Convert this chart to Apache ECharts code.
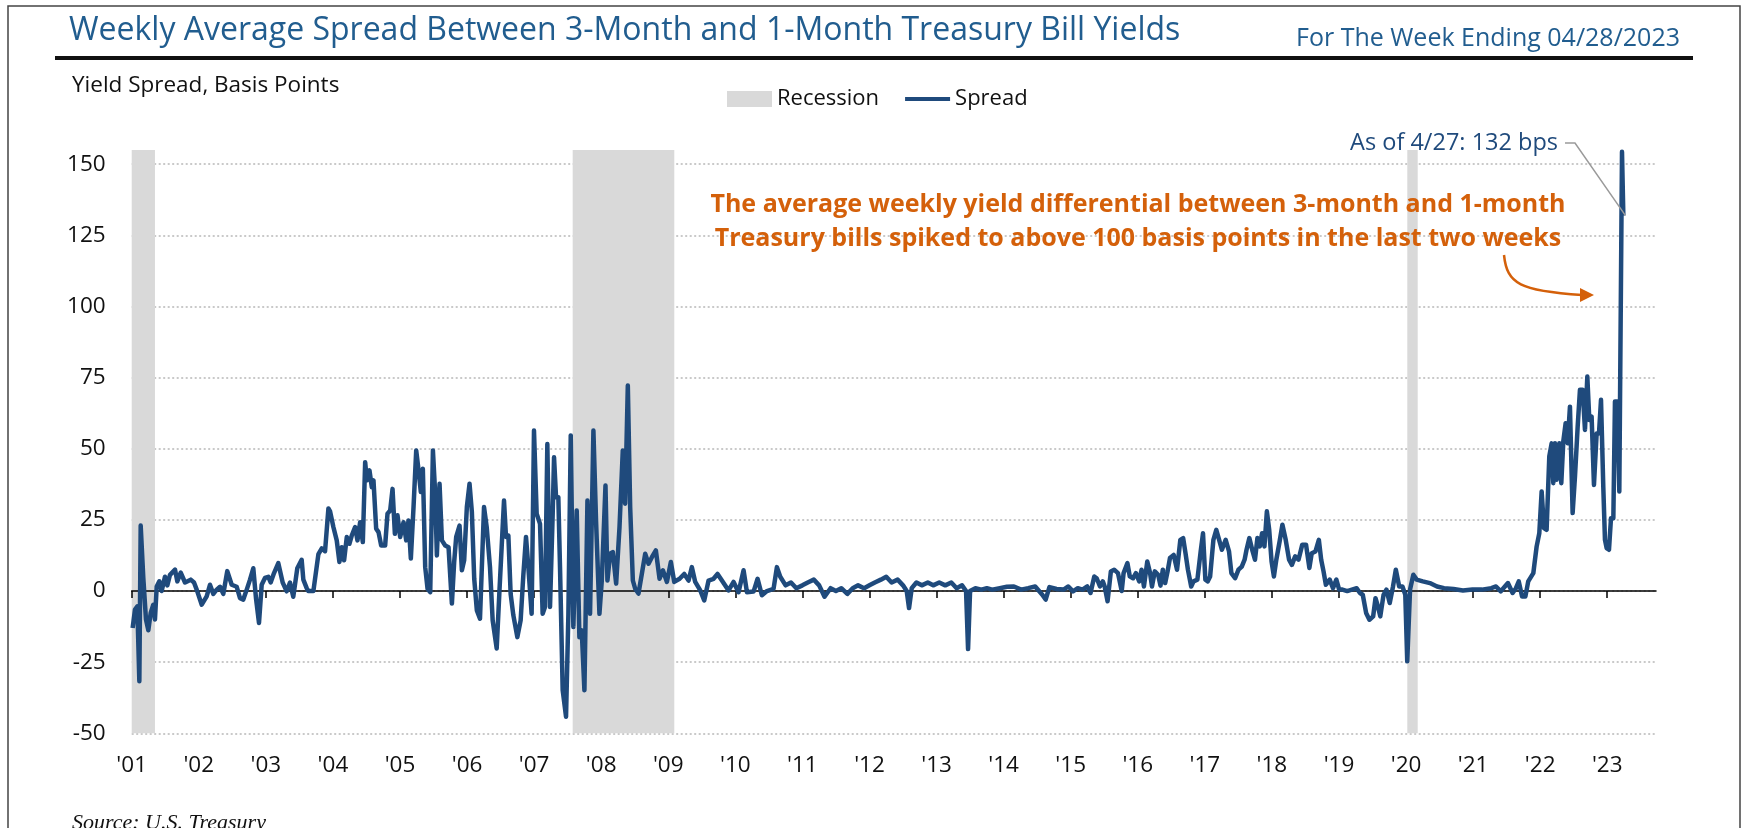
<!DOCTYPE html>
<html><head><meta charset="utf-8">
<script src="https://cdn.jsdelivr.net/npm/echarts@6/dist/echarts.min.js"></script>
<style>html,body{margin:0;padding:0;background:#fff}#chart{width:1741px;height:828px}</style>
</head><body><div id="chart"></div>
<script>
// Week positions (decimal years, as placed on the chart's year axis)
const weekPos = [
2001.014, 2001.049, 2001.084, 2001.114, 2001.134, 2001.173, 2001.213, 2001.248, 2001.283, 2001.322,
2001.347, 2001.373, 2001.412, 2001.447, 2001.496, 2001.531, 2001.571, 2001.646, 2001.680, 2001.731,
2001.795, 2001.880, 2001.929, 2001.969, 2002.044, 2002.118, 2002.167, 2002.217, 2002.267, 2002.317,
2002.366, 2002.425, 2002.491, 2002.566, 2002.615, 2002.664, 2002.715, 2002.764, 2002.813, 2002.853,
2002.898, 2002.938, 2002.987, 2003.037, 2003.072, 2003.122, 2003.186, 2003.251, 2003.311, 2003.360,
2003.409, 2003.469, 2003.534, 2003.559, 2003.609, 2003.634, 2003.709, 2003.784, 2003.834, 2003.883,
2003.933, 2003.958, 2004.007, 2004.057, 2004.097, 2004.132, 2004.167, 2004.207, 2004.246, 2004.281,
2004.331, 2004.366, 2004.406, 2004.446, 2004.481, 2004.506, 2004.545, 2004.580, 2004.605, 2004.645,
2004.680, 2004.720, 2004.779, 2004.814, 2004.854, 2004.889, 2004.924, 2004.963, 2005.003, 2005.053,
2005.093, 2005.127, 2005.162, 2005.202, 2005.242, 2005.277, 2005.311, 2005.341, 2005.376, 2005.411,
2005.451, 2005.491, 2005.525, 2005.550, 2005.590, 2005.625, 2005.674, 2005.724, 2005.774, 2005.808,
2005.838, 2005.888, 2005.923, 2005.957, 2005.997, 2006.037, 2006.072, 2006.107, 2006.146, 2006.193,
2006.253, 2006.293, 2006.342, 2006.382, 2006.442, 2006.481, 2006.516, 2006.551, 2006.581, 2006.616,
2006.650, 2006.690, 2006.750, 2006.799, 2006.839, 2006.879, 2006.914, 2006.963, 2006.998, 2007.038,
2007.088, 2007.127, 2007.162, 2007.197, 2007.237, 2007.277, 2007.297, 2007.327, 2007.361, 2007.386,
2007.426, 2007.476, 2007.511, 2007.546, 2007.585, 2007.635, 2007.675, 2007.710, 2007.750, 2007.795,
2007.834, 2007.884, 2007.924, 2007.974, 2008.009, 2008.064, 2008.093, 2008.133, 2008.173, 2008.223,
2008.273, 2008.322, 2008.357, 2008.397, 2008.432, 2008.472, 2008.507, 2008.556, 2008.606, 2008.656,
2008.706, 2008.756, 2008.815, 2008.870, 2008.920, 2008.980, 2009.039, 2009.089, 2009.169, 2009.238,
2009.303, 2009.352, 2009.402, 2009.477, 2009.536, 2009.601, 2009.675, 2009.735, 2009.800, 2009.899,
2009.974, 2010.048, 2010.123, 2010.173, 2010.272, 2010.332, 2010.396, 2010.471, 2010.570, 2010.620,
2010.670, 2010.750, 2010.830, 2010.910, 2011.000, 2011.080, 2011.170, 2011.250, 2011.330, 2011.420,
2011.500, 2011.580, 2011.670, 2011.750, 2011.830, 2011.920, 2012.000, 2012.080, 2012.170, 2012.250,
2012.330, 2012.420, 2012.500, 2012.555, 2012.590, 2012.630, 2012.700, 2012.780, 2012.870, 2012.950,
2013.040, 2013.130, 2013.220, 2013.300, 2013.380, 2013.440, 2013.470, 2013.500, 2013.580, 2013.670,
2013.750, 2013.830, 2013.943, 2014.049, 2014.154, 2014.260, 2014.366, 2014.471, 2014.577, 2014.627,
2014.683, 2014.789, 2014.894, 2014.965, 2015.035, 2015.106, 2015.176, 2015.247, 2015.296, 2015.352,
2015.388, 2015.437, 2015.479, 2015.507, 2015.550, 2015.599, 2015.648, 2015.705, 2015.761, 2015.789,
2015.846, 2015.881, 2015.930, 2015.973, 2016.022, 2016.057, 2016.092, 2016.142, 2016.184, 2016.212,
2016.254, 2016.304, 2016.339, 2016.374, 2016.409, 2016.445, 2016.480, 2016.536, 2016.586, 2016.635,
2016.677, 2016.712, 2016.748, 2016.797, 2016.832, 2016.889, 2016.938, 2016.973, 2017.008, 2017.044,
2017.079, 2017.128, 2017.171, 2017.206, 2017.255, 2017.311, 2017.361, 2017.396, 2017.452, 2017.502,
2017.551, 2017.593, 2017.622, 2017.664, 2017.713, 2017.748, 2017.784, 2017.819, 2017.854, 2017.889,
2017.925, 2017.960, 2017.995, 2018.030, 2018.066, 2018.115, 2018.157, 2018.206, 2018.256, 2018.298,
2018.347, 2018.397, 2018.453, 2018.509, 2018.559, 2018.594, 2018.650, 2018.700, 2018.735, 2018.770,
2018.805, 2018.862, 2018.911, 2018.961, 2019.003, 2019.052, 2019.123, 2019.193, 2019.264, 2019.313,
2019.355, 2019.405, 2019.454, 2019.510, 2019.545, 2019.581, 2019.616, 2019.665, 2019.708, 2019.757,
2019.806, 2019.848, 2019.898, 2019.947, 2019.989, 2020.018, 2020.060, 2020.109, 2020.159, 2020.250,
2020.356, 2020.462, 2020.567, 2020.708, 2020.849, 2020.990, 2021.131, 2021.272, 2021.342, 2021.413,
2021.519, 2021.589, 2021.639, 2021.681, 2021.730, 2021.780, 2021.822, 2021.848, 2021.898, 2021.947,
2021.987, 2022.022, 2022.057, 2022.096, 2022.136, 2022.171, 2022.196, 2022.221, 2022.245, 2022.285,
2022.315, 2022.345, 2022.380, 2022.410, 2022.444, 2022.484, 2022.519, 2022.559, 2022.593, 2022.633,
2022.668, 2022.703, 2022.733, 2022.767, 2022.802, 2022.842, 2022.877, 2022.907, 2022.941, 2022.966,
2022.991, 2023.026, 2023.056, 2023.091, 2023.115, 2023.150, 2023.180, 2023.200, 2023.220, 2023.240
];
// Weekly average spread, 3-month minus 1-month T-bill yield (basis points)
const spreadBps = [
-13, -6.5, -5.4, -31.7, 23, 4.6, -10, -13.8, -7.7, -4.8,
-10, 1.6, 3.4, 0, 5, 2, 5.7, 7.5, 3.4, 6.5,
3, 4, 3, 0.5, -4.8, -1.9, 2.2, -1, 0.5, 1.5,
-1, 7, 2.2, 1.5, -2.5, -3, 0.5, 4, 8, -2.5,
-11.2, 2.2, 4.6, 5, 3, 6.3, 9.8, 3, -0.1, 3,
-2, 8, 11, 4, 1, 0, 0, 13, 15, 14,
29, 28, 22.5, 17.8, 10.2, 15.4, 10.8, 19, 16.6, 19.5,
22.5, 17.8, 24.2, 17.2, 45.3, 38.9, 42.4, 36.5, 38.9, 21.9,
20.7, 16, 16, 27.2, 28.3, 35.9, 20.1, 26.6, 19, 24.2,
17.8, 24.8, 11.4, 29.5, 49.4, 42.4, 34.8, 43, 8.4, 0.8,
-0.4, 49.4, 34.2, 12.5, 37.7, 17.8, 16, 15.4, -4.4, 10.2,
19, 23, 7.3, 10.8, 29.5, 37.7, 27.7, 4.3, -6.8, -9.7,
29.5, 22.5, 8.4, -10.3, -20.2, -1, 15.4, 31.8, 19, 19.5,
-1, -8.5, -16.2, -10.3, 5.5, 19, 8.4, -8, 56.4, 27.2,
23.6, -8, -5.6, 51.7, -5.6, 27.2, 47, 33, 33, 8.4,
-34.9, -44.2, -8, 54.7, -12.6, 28.3, -16.2, -13.8, -34.9, 31.8,
-8, 56.4, 24.2, -8, 3.7, 37.1, 3.7, 13.1, 13.7, 2.6,
22.5, 49.4, 30.7, 72.2, 29.5, 3.7, 0.8, -0.9, 6, 13.1,
9.6, 11.9, 14.3, 4.3, 7.3, 3.2, 10.2, 3.2, 4.3, 6,
3.7, 8.4, 3.2, 0.2, -3.3, 3.7, 4.3, 6, 3.7, 0.2,
3.2, -0.4, 7.3, -0.4, -0.2, 4.3, -1.5, 0, 0.8, 8.4,
5, 2, 3, 1, 2, 3, 4, 2, -2, 1,
0, 1, -1, 1, 2, 1, 2, 3, 4, 5,
3, 4, 2, 0, -6, 1, 3, 2, 3, 2,
3, 2, 3, 1, 2, 0, -20.4, 0, 1, 0.5,
1, 0.5, 1, 1.5, 1.6, 0.5, 1, 1.6, -1.3, -3,
1.4, 0.7, 0.5, 1.6, -0.1, 1, 0.5, 1.6, -0.7, 5.1,
4.5, 1.6, 3.4, 1.6, -3.6, 6.9, 7.5, 6.3, 0, 6.3,
9.8, 5.2, 4.5, 6.3, 3.4, 7.5, 1.6, 10.4, 6.3, 1.6,
6.9, 5.7, 1.9, 7.5, 2.8, 6.9, 11.6, 12.7, 7.5, 18,
18.6, 13.3, 7.5, 1.6, 3.4, 4, 13.9, 20.3, 4, 3.4,
5.1, 18, 21.5, 18.6, 14.5, 18, 13.9, 6.3, 4.5, 7.5,
8.6, 11, 14.5, 18.6, 13.9, 11, 18.6, 15.7, 20.3, 15.7,
28, 21.5, 10.4, 5.1, 11, 17.4, 23.3, 18, 11, 9.2,
12.2, 11, 16.3, 16.3, 8.1, 13.3, 13.9, 18, 11, 6.9,
2.2, 4, 1, 4, 0.5, 0.5, 0, 0.5, 1, -0.7,
-1.3, -7.7, -10.1, -8.9, -2.5, -5.4, -8.9, -1.3, 0.5, -4.2,
1.6, 7.5, 1.6, 1.6, -1.3, -24.7, 0.5, 5.7, 4, 3.4,
2.8, 1.6, 1, 0.7, 0.2, 0.5, 0.5, 1, 1.6, -0.1,
2.8, -0.7, 1, 3.4, -1.9, -1.9, 3.4, 2.8, 6.3, 15.6,
20.3, 35, 22.1, 21.5, 47.3, 51.9, 37.9, 51.9, 39.1, 51.9,
37.9, 52.6, 59, 51.9, 64.8, 27.4, 40.2, 57.8, 70.7, 70.7,
56.6, 75.4, 60.1, 61.3, 37.3, 55.4, 55.4, 67.2, 36.7, 18,
15.1, 14.5, 25.6, 25.6, 66.6, 66.6, 35, 35, 154.4, 132
];
// Recession shading (start, end) on the same year axis
const recessions = [[2001.0, 2001.347], [2007.575, 2009.09], [2020.019, 2020.174]];
const yearTicks = [2001,2002,2003,2004,2005,2006,2007,2008,2009,2010,2011,2012,2013,2014,2015,2016,2017,2018,2019,2020,2021,2022,2023];
const yTicks = [-50, -25, 0, 25, 50, 75, 100, 125, 150];
const latestLabel = 'As of 4/27: 132 bps';

const FONT = "'Open Sans', 'Noto Sans', sans-serif";
const BLUE = '#1f4a7c';
const TITLE_BLUE = '#215d8f';
const ORANGE = '#d4600a';
const chart = echarts.init(document.getElementById('chart'));
const seriesData = weekPos.map((x, i) => [x, spreadBps[i]]);
const gridColors = yTicks.map(() => '#b8b8b8').concat(['rgba(0,0,0,0)']);

chart.setOption({
  animation: false,
  backgroundColor: '#fff',
  grid: { left: 131.7, right: 85, top: 150, bottom: 94.7 },
  legend: {
    left: 727, top: 88, padding: 0, itemWidth: 45, itemHeight: 16, itemGap: 24, selectedMode: false,
    textStyle: { fontSize: 22, color: '#111', fontFamily: FONT },
    data: [{ name: 'Recession', icon: 'rect' },
           { name: 'Spread', itemStyle: { opacity: 0 }, lineStyle: { width: 4, color: BLUE } }]
  },
  xAxis: [{
    type: 'value', min: 2001, max: 2023.727, position: 'bottom',
    axisLine: { show: false, onZero: false }, axisTick: { show: false }, splitLine: { show: false },
    axisLabel: { customValues: yearTicks, margin: 21, fontSize: 22.5, color: '#111', fontFamily: FONT,
      formatter: v => "'" + String(Math.round(v)).slice(2) }
  }, {
    type: 'value', min: 2001, max: 2023.727, position: 'bottom', z: 2,
    axisLine: { show: true, onZero: true, lineStyle: { color: '#000', width: 1.5 } },
    axisTick: { show: true, customValues: yearTicks, length: 7, lineStyle: { color: '#000', width: 1.5 } },
    axisLabel: { show: false }, splitLine: { show: false }
  }],
  yAxis: {
    type: 'value', min: -50, max: 155, interval: 25,
    axisLine: { show: false }, axisTick: { show: false },
    axisLabel: { customValues: yTicks, margin: 26, fontSize: 22.5, color: '#111', fontFamily: FONT },
    splitLine: { show: true, showMaxLine: false, lineStyle: { color: gridColors, type: [2, 2.5], width: 1.5 } }
  },
  series: [{
    name: 'Recession', type: 'line', data: [], z: 1, silent: true,
    itemStyle: { color: '#d9d9d9' }, lineStyle: { color: '#d9d9d9' },
    markArea: { silent: true, itemStyle: { color: '#d9d9d9', opacity: 1 },
      data: recessions.map(r => [{ xAxis: r[0] }, { xAxis: r[1] }]) }
  }, {
    name: 'Spread', type: 'line', data: seriesData, z: 3, silent: true,
    symbol: 'none', showSymbol: false,
    itemStyle: { color: BLUE }, lineStyle: { color: BLUE, width: 4.5, join: 'round' }
  }]
});

const lastPt = seriesData[seriesData.length - 1];
const end = chart.convertToPixel({ xAxisIndex: 0, yAxisIndex: 0 }, lastPt);

chart.setOption({
  graphic: [
    { type: 'rect', silent: true, z: 10, shape: { x: 8, y: 6, width: 1732, height: 840 },
      style: { fill: 'none', stroke: '#444', lineWidth: 1.5 } },
    { type: 'text', silent: true, z: 10, x: 69, y: 31,
      style: { text: 'Weekly Average Spread Between 3-Month and 1-Month Treasury Bill Yields',
        fontSize: 32, fontFamily: FONT, fill: TITLE_BLUE, verticalAlign: 'middle' } },
    { type: 'text', silent: true, z: 10, x: 1680, y: 39,
      style: { text: 'For The Week Ending 04/28/2023', fontSize: 25, fontFamily: FONT, fill: TITLE_BLUE,
        align: 'right', verticalAlign: 'middle' } },
    { type: 'rect', silent: true, z: 10, shape: { x: 55, y: 56, width: 1638, height: 4 }, style: { fill: '#111' } },
    { type: 'text', silent: true, z: 10, x: 72, y: 86,
      style: { text: 'Yield Spread, Basis Points', fontSize: 22.5, fontFamily: FONT, fill: '#111', verticalAlign: 'middle' } },
    { type: 'text', silent: true, z: 10, x: 72, y: 812,
      style: { text: 'Source: U.S. Treasury', fontSize: 22, fontStyle: 'italic', fontFamily: "'Liberation Serif', serif",
        fill: '#111', verticalAlign: 'top' } },
    { type: 'text', silent: true, z: 10, x: 1558, y: 143,
      style: { text: latestLabel, fontSize: 23.5, fontFamily: FONT, fill: BLUE, align: 'right', verticalAlign: 'middle' } },
    { type: 'polyline', silent: true, z: 10, shape: { points: [[1565, 143], [1575, 143], [end[0] + 2, end[1]]] },
      style: { stroke: '#9a9a9a', lineWidth: 1.5, fill: 'none' } },
    { type: 'text', silent: true, z: 10, x: 1138, y: 205,
      style: { text: 'The average weekly yield differential between 3-month and 1-month', fontSize: 25,
        fontWeight: 'bold', fontFamily: FONT, fill: ORANGE, align: 'center', verticalAlign: 'middle' } },
    { type: 'text', silent: true, z: 10, x: 1138, y: 239,
      style: { text: 'Treasury bills spiked to above 100 basis points in the last two weeks', fontSize: 25,
        fontWeight: 'bold', fontFamily: FONT, fill: ORANGE, align: 'center', verticalAlign: 'middle' } },
    { type: 'bezierCurve', silent: true, z: 10,
      shape: { x1: 1504, y1: 255, cpx1: 1507, cpy1: 284, cpx2: 1520, cpy2: 291, x2: 1582, y2: 295 },
      style: { stroke: ORANGE, lineWidth: 2.5, fill: 'none' } },
    { type: 'polygon', silent: true, z: 10, shape: { points: [[1580, 288], [1594, 295], [1580, 302]] },
      style: { fill: ORANGE } }
  ]
});
</script></body></html>
